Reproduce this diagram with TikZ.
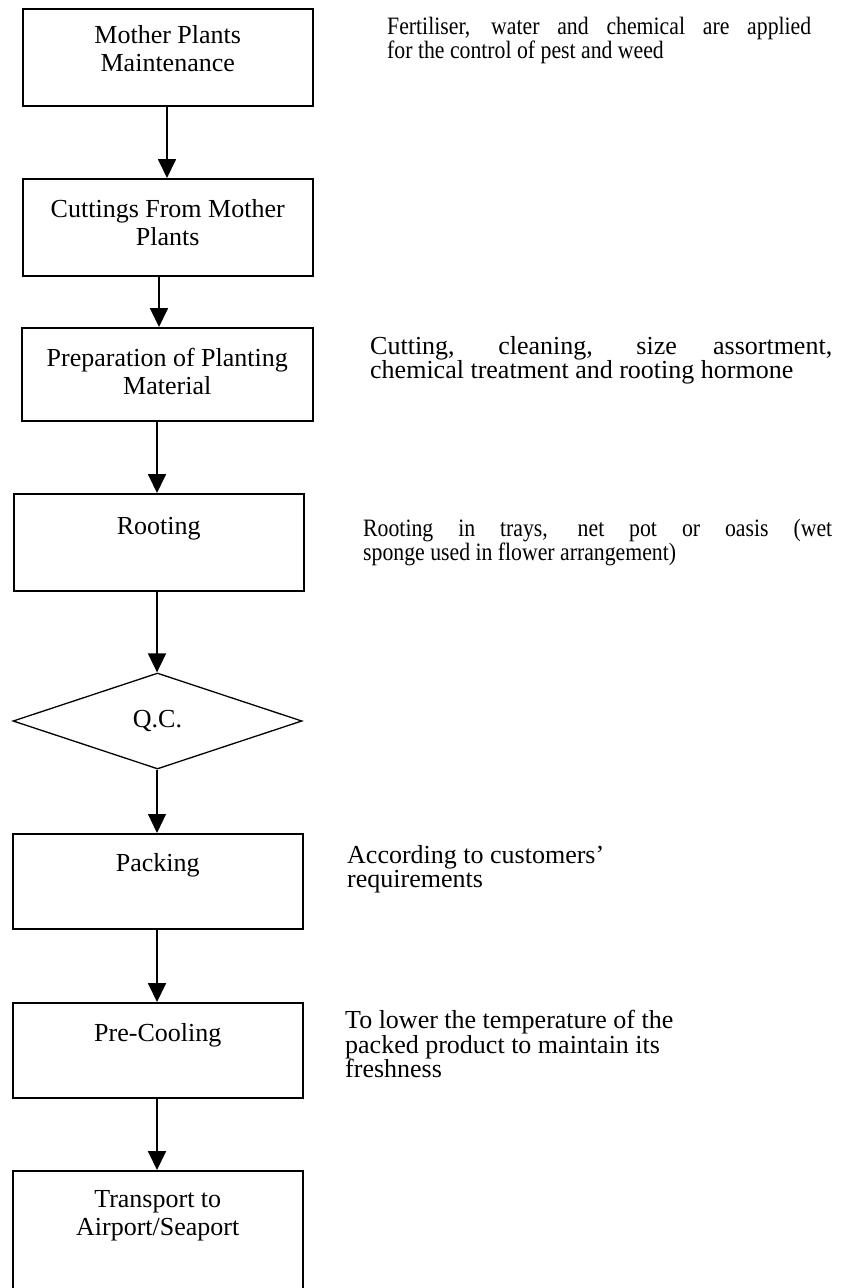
\documentclass[tikz,border=0pt]{standalone}
\usepackage{fontspec}
\setmainfont{Liberation Serif}
\newfontfamily\narrowserif[FakeStretch=0.87]{Liberation Serif}
\usetikzlibrary{arrows.meta,shapes.geometric}
\begin{document}
\begin{tikzpicture}[x=1pt,y=-1pt,
  stepbox/.style={draw, line width=1.5pt, rectangle, inner sep=0pt, anchor=north west},
  decision/.style={draw, line width=1.3pt, diamond, inner sep=0pt,
    minimum width=289pt, minimum height=96pt, font=\fontsize{26}{28}\selectfont},
  boxlabel/.style={anchor=north, align=center, inner sep=0pt, font=\fontsize{26}{28}\selectfont},
  note/.style={anchor=north west, align=left, inner sep=0pt, font=\fontsize{26}{22.5}\selectfont},
  narrownote/.style={note, font=\narrowserif\fontsize{25}{22.5}\selectfont},
  flow/.style={line width=1.8pt, -{Triangle[length=19pt,width=18pt]}},
  thinflow/.style={line width=1.1pt, -{Triangle[length=19pt,width=18pt]}}]
  \path[use as bounding box] (0,0) rectangle (842,1288);
  \clip (0,0) rectangle (842,1288);
  \fill[white] (0,0) rectangle (842,1288);

  % process steps
  \node[stepbox, minimum width=290pt, minimum height=97pt] (b1) at (22,8) {};
  \node[stepbox, minimum width=290pt, minimum height=97pt] (b2) at (22,178) {};
  \node[stepbox, minimum width=291pt, minimum height=93pt] (b3) at (21,327) {};
  \node[stepbox, minimum width=290pt, minimum height=97pt] (b4) at (13,493) {};
  \node[decision] (qc) at (157.5,721) {Q.C.};
  \node[stepbox, minimum width=290pt, minimum height=95pt] (b5) at (12,833) {};
  \node[stepbox, minimum width=290pt, minimum height=95pt] (b6) at (12,1002) {};
  \node[stepbox, minimum width=290pt, minimum height=150pt] (b7) at (12,1170) {};

  % step titles
  \node[boxlabel] (l1) at ([yshift=-17pt]b1.north) {Mother Plants\\Maintenance};
  \node[boxlabel] (l2) at ([yshift=-21pt]b2.north) {Cuttings From Mother\\Plants};
  \node[boxlabel] (l3) at ([yshift=-21pt]b3.north) {Preparation of Planting\\Material};
  \node[boxlabel] (l4) at ([yshift=-24pt]b4.north) {Rooting};
  \node[boxlabel] (l5) at ([yshift=-20pt]b5.north) {Packing};
  \node[boxlabel] (l6) at ([yshift=-21pt]b6.north) {Pre-Cooling};
  \node[boxlabel] (l7) at ([yshift=-20pt]b7.north) {Transport to\\Airport/Seaport};

  % arrow columns
  \coordinate (c1) at (167,0);
  \coordinate (c2) at (159,0);
  \coordinate (c3) at (157,0);

  \draw[flow] (b1.south -| c1) -- (b2.north -| c1);
  \draw[flow] (b2.south -| c2) -- (b3.north -| c2);
  \draw[flow] (b3.south -| c3) -- (b4.north -| c3);
  \draw[flow] (b4.south -| c3) -- (qc.north -| c3);
  \draw[thinflow] (qc.south -| c3) -- (b5.north -| c3);
  \draw[flow] (b5.south -| c3) -- (b6.north -| c3);
  \draw[flow] (b6.south -| c3) -- (b7.north -| c3);

  % notes beside the steps
  \node[narrownote] (n1) at (387,17) {\makebox[424pt][s]{Fertiliser, water and chemical are applied}\\for the control of pest and weed};
  \node[note] (n3) at (370,336) {\makebox[462pt][s]{Cutting, cleaning, size assortment,}\\chemical treatment and rooting hormone};
  \node[narrownote] (n4) at (363,519) {\makebox[469pt][s]{Rooting in trays, net pot or oasis (wet}\\sponge used in flower arrangement)};
  \node[note] (n5) at (347,845) {According to customers'\\requirements};
  \node[note] (n6) at (345,1010) {To lower the temperature of the\\packed product to maintain its\\freshness};
\end{tikzpicture}
\end{document}
